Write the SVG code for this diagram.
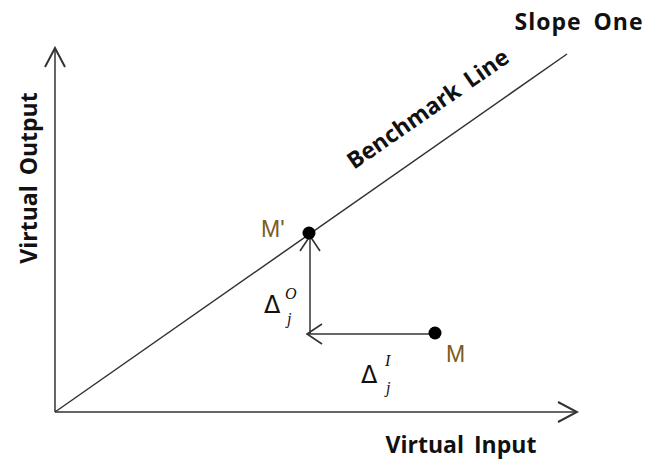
<svg xmlns="http://www.w3.org/2000/svg" width="658" height="459" viewBox="0 0 658 459">
<defs>
<style>
.ln{stroke:#333;stroke-width:1.5;fill:none}
.lbl{font-family:"Open Sans","Liberation Sans",sans-serif;font-weight:bold;font-size:23px;fill:#111}
.pt{font-family:"Liberation Sans","Noto Sans",sans-serif;font-size:23px;fill:#7a5c1e}
.math{font-family:"DejaVu Sans",sans-serif;font-size:24px;fill:#111}
.sub{font-family:"Liberation Serif",serif;font-style:italic;font-size:16px;fill:#111}
</style>
<marker id="ah" viewBox="0 0 18 22" refX="16" refY="11" markerWidth="18" markerHeight="22" markerUnits="userSpaceOnUse" orient="auto">
<path d="M1,1 L16,11 L1,21" fill="none" stroke="#333" stroke-width="1.6"/>
</marker>
<marker id="ah2" viewBox="0 0 22 24" refX="20" refY="12" markerWidth="22" markerHeight="24" markerUnits="userSpaceOnUse" orient="auto">
<path d="M1,2 L20,12 L1,22" fill="none" stroke="#333" stroke-width="2"/>
</marker>
</defs>
<rect width="658" height="459" fill="#fff"/>
<g id="connectors">
<line class="ln" x1="55" y1="412" x2="55" y2="48" marker-end="url(#ah2)"/>
<line class="ln" x1="55" y1="412" x2="577" y2="412" marker-end="url(#ah2)"/>
<line class="ln" x1="55" y1="412" x2="567" y2="54"/>
<line class="ln" x1="310" y1="334" x2="310" y2="236" marker-end="url(#ah)"/>
<line class="ln" x1="435" y1="334" x2="307" y2="334" marker-end="url(#ah)"/>
</g>
<g id="axis-labels">
<text class="lbl" transform="translate(37,178) rotate(-90)" text-anchor="middle" font-size="22" word-spacing="4">Virtual Output</text>
<text class="lbl" x="461" y="453" text-anchor="middle" word-spacing="4">Virtual Input</text>
<text class="lbl" x="579" y="30" text-anchor="middle" font-weight="600" font-size="22" word-spacing="5" letter-spacing="1" fill="#1a1a2a">Slope One</text>
<text class="lbl" transform="translate(354,170) rotate(-34.8)" word-spacing="4">Benchmark Line</text>
</g>
<g id="M-prime">
<circle cx="309" cy="233" r="6.5" fill="#000"/>
<text class="pt" x="261" y="237">M'</text>
</g>
<g id="M">
<circle cx="435" cy="333" r="6.5" fill="#000"/>
<text class="pt" x="446" y="362" font-size="24">M</text>
</g>
<g id="delta-O">
<text class="math" x="264" y="313">Δ</text>
<text class="sub" x="285" y="299" font-size="15">O</text>
<text class="sub" x="287" y="324">j</text>
</g>
<g id="delta-I">
<text class="math" x="361" y="383">Δ</text>
<text class="sub" x="385" y="366">I</text>
<text class="sub" x="386" y="393">j</text>
</g>
</svg>
